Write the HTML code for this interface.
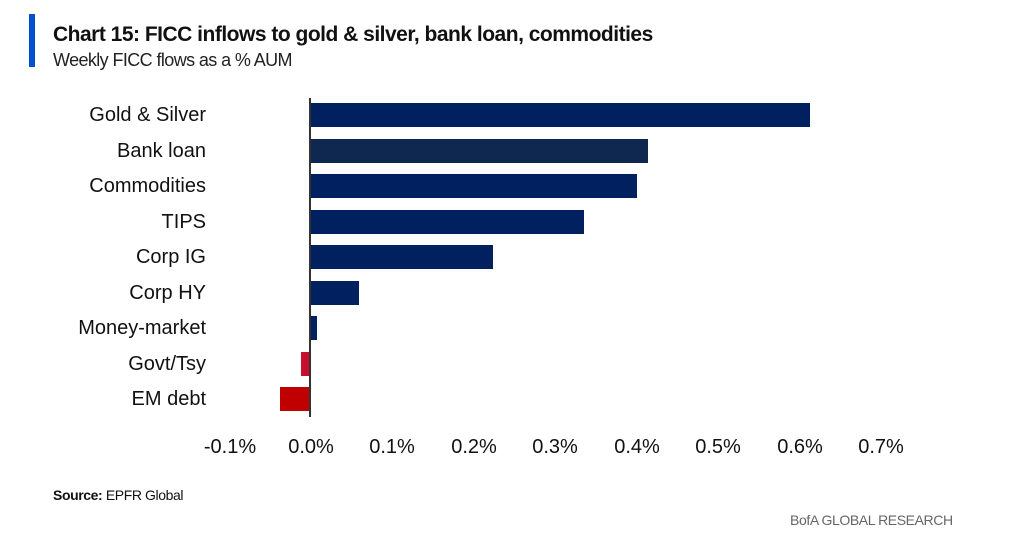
<!DOCTYPE html>
<html><head><style>
body{margin:0;width:1024px;height:543px;background:#fff;overflow:hidden;position:relative;font-family:"Liberation Sans",sans-serif}
.a{position:absolute}
.lbl{position:absolute;right:818px;font-size:20px;color:#111;white-space:nowrap;line-height:24px}
.bar{position:absolute;height:24px;background:#002060}
.t{position:absolute;top:436px;font-size:20px;color:#111;width:80px;text-align:center;margin-left:-40px}
</style></head><body>
<div class="a" style="left:29px;top:14px;width:6px;height:53px;background:#0052cc"></div>
<div class="a" style="left:53px;top:23px;font-size:21px;font-weight:bold;color:#111;letter-spacing:-0.5px">Chart 15: FICC inflows to gold &amp; silver, bank loan, commodities</div>
<div class="a" style="left:53px;top:50px;font-size:18px;color:#222;letter-spacing:-0.6px">Weekly FICC flows as a % AUM</div>

<div class="lbl" style="top:103px">Gold &amp; Silver</div>
<div class="lbl" style="top:139px">Bank loan</div>
<div class="lbl" style="top:174px">Commodities</div>
<div class="lbl" style="top:210px">TIPS</div>
<div class="lbl" style="top:245px">Corp IG</div>
<div class="lbl" style="top:281px">Corp HY</div>
<div class="lbl" style="top:316px">Money-market</div>
<div class="lbl" style="top:352px">Govt/Tsy</div>
<div class="lbl" style="top:387px">EM debt</div>

<div class="bar" style="left:311px;top:103px;width:499px"></div>
<div class="bar" style="left:311px;top:139px;width:337px;background:#0f2850"></div>
<div class="bar" style="left:311px;top:174px;width:326px"></div>
<div class="bar" style="left:311px;top:210px;width:273px"></div>
<div class="bar" style="left:311px;top:245px;width:182px"></div>
<div class="bar" style="left:311px;top:281px;width:48px"></div>
<div class="bar" style="left:311px;top:316px;width:6px"></div>
<div class="bar" style="left:301px;top:352px;width:10px;background:#c8102e"></div>
<div class="bar" style="left:280px;top:387px;width:31px;background:#c00000"></div>
<div class="a" style="left:309px;top:98px;width:2px;height:319px;background:#333"></div>

<div class="t" style="left:230px">-0.1%</div>
<div class="t" style="left:311px">0.0%</div>
<div class="t" style="left:392px">0.1%</div>
<div class="t" style="left:474px">0.2%</div>
<div class="t" style="left:555px">0.3%</div>
<div class="t" style="left:637px">0.4%</div>
<div class="t" style="left:718px">0.5%</div>
<div class="t" style="left:800px">0.6%</div>
<div class="t" style="left:881px">0.7%</div>

<div class="a" style="left:53px;top:487px;font-size:14px;color:#111;letter-spacing:-0.4px"><b>Source:</b> EPFR Global</div>
<div class="a" style="left:790px;top:512px;font-size:14px;color:#666;letter-spacing:-0.4px">BofA GLOBAL RESEARCH</div>
</body></html>
